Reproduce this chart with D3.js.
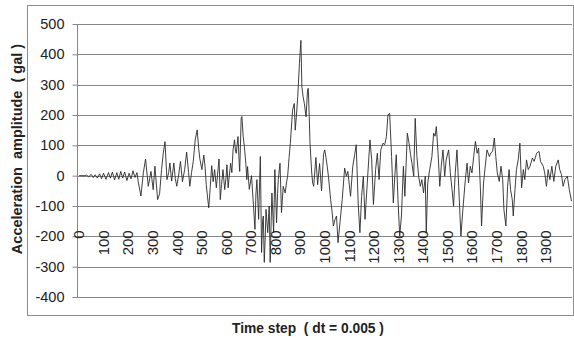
<!DOCTYPE html>
<html>
<head>
<meta charset="utf-8">
<script src="https://cdn.jsdelivr.net/npm/d3@7"></script>
<style>
    body { margin: 0; background: #fff; }
    svg { display: block; font-family: "Liberation Sans", Arial, sans-serif; }
</style>
</head>
<body>
<div id="chart"></div>
<script>

// time step of each reading (dt = 0.005)
let timeSteps = [0, 24, 30, 40, 50, 58, 66, 75, 84, 92, 100, 110, 120, 128, 136, 145, 154, 162, 170, 178, 186, 195, 204, 212, 220, 228, 236,
    241, 252, 262, 271, 282, 293, 302, 309, 320, 328, 336, 343, 350, 358, 365, 370, 377, 386, 392, 398, 406, 413, 421, 430, 438, 446,
    451, 458, 465, 473, 481, 487, 492, 500, 508, 513, 518, 523, 528, 534, 540, 546, 552, 559, 564, 570, 575, 580, 586, 593, 598, 602,
    607, 610, 617, 622, 627, 633, 637, 640, 647, 652, 654, 660, 663, 668, 673, 679, 683, 686, 693, 702, 710, 716, 720, 724, 731, 735,
    738, 743, 747, 750, 754, 758, 761, 768, 774, 778, 782, 785, 792, 797, 804, 808, 811, 818, 824, 831, 839, 845, 849, 855, 860, 869,
    876, 880, 885, 890, 897, 903, 907, 912, 917, 924, 930, 933, 937, 940, 947, 951, 955, 964, 971, 979, 987, 995, 1000, 1005, 1010,
    1015, 1024, 1030, 1035, 1042, 1048, 1054, 1062, 1071, 1081, 1088, 1094, 1100, 1105, 1114, 1122, 1128, 1136, 1143, 1150, 1157,
    1164, 1173, 1184, 1191, 1198, 1207, 1214, 1221, 1228, 1237, 1244, 1251, 1257, 1264, 1272, 1279, 1285, 1291, 1298, 1305, 1312,
    1320, 1326, 1336, 1343, 1349, 1355, 1362, 1368, 1375, 1382, 1389, 1395, 1402, 1409, 1413, 1419, 1427, 1436, 1443, 1449, 1454,
    1461, 1468, 1474, 1481, 1488, 1494, 1504, 1511, 1518, 1524, 1531, 1538, 1545, 1554, 1562, 1572, 1579, 1585, 1592, 1599, 1606,
    1613, 1620, 1626, 1633, 1638, 1646, 1653, 1660, 1670, 1676, 1683, 1690, 1696, 1702, 1710, 1717, 1724, 1729, 1737, 1744, 1750,
    1756, 1763, 1767, 1774, 1780, 1787, 1794, 1801, 1808, 1814, 1821, 1828, 1835, 1845, 1852, 1862, 1872, 1878, 1889, 1895, 1902,
    1909, 1916, 1924, 1932, 1940, 1950, 1956, 1963, 1970, 1977, 1987, 1995, 2004];

// acceleration amplitude (gal)
let accel = [0, 0, 2, -3, 4, -6, 3, -8, 6, -10, 8, -12, 10, -8, 12, -14, 10, -12, 14, -8, 12, -16, 8, -10, 16, -6, 10,
    -19, -67, 10, 55, -35, 14, -46, 31, -79, -60, 20, 74, 112, -13, 10, 42, -18, 42, -10, -35, 5, 47, -20, 20, 78, 10,
    -35, 10, 47, 118, 151, 90, 55, 20, 68, 30, -30, -70, -106, -40, 33, -20, 20, -40, 5, 55, -79, -30, 20, -46, -10, 36,
    -40, -13, 41, 10, 85, 118, 80, 74, 129, 40, 14, 190, 195, 130, 95, 40, -13, 30, -45, 0, -100, -177, -60, -13, -144, -20,
    63, -253, -150, -133, -286, -200, -111, -188, -100, -286, -150, -57, -188, 20, -155, -60, -13, 41, -122, -35, -57, -20, -2, 60, 107, 216,
    238, 150, 200, 260, 369, 446, 293, 260, 238, 194, 282, 288, 194, 107, 9, -24, -35, 60, -30, 40, -50, 70, 85, 60, 31,
    -2, -79, -120, -166, -144, -133, -221, -155, -79, 25, -2, 14, -30, -68, 31, 70, 102, -90, -188, -68, -2,
    -144, -24, 118, 52, -95, 20, 74, -13, 85, 107, 102, 129, 200, 206, 63, -90, -2, 69, -79, -199, -133,
    31, -68, 140, 107, 70, 40, -2, 189, 63, -2, -35, -13, -57, -2, -190, -24, 20, 63, 140, 130, 162,
    74, -35, 31, 85, -2, 52, 85, 9, -46, -101, 9, 85, -35, -199, -112, -13, 41, -24, 31, 9, 63,
    113, 74, 91, -35, -166, -24, 31, 85, 63, 75, 80, 124, 63, 9, -19, 31, -13, -112, -166, -35, 20,
    -46, -79, -133, -46, 20, 52, 107, -40, 20, -13, 52, 20, 31, 58, 47, 74, 80, 47, 31, 9, -35,
    20, -13, 31, -19, 31, 52, 20, 4, -35, -13, -2, -46, -84];

let yTicks = [-400, -300, -200, -100, 0, 100, 200, 300, 400, 500];
let xTickLabels = [0, 100, 200, 300, 400, 500, 600, 700, 800, 900, 1000, 1100, 1200, 1300, 1400, 1500, 1600, 1700, 1800, 1900];

let width = 574, height = 341;
let plot = {left: 77, right: 572, top: 24, bottom: 297};
let gridColor = "#868686";
let textColor = "#222";

let svg = d3.select("#chart").append("svg")
    .attr("width", width)
    .attr("height", height);

// chart area border
svg.append("rect")
    .attr("x", 27.5)
    .attr("y", 5.5)
    .attr("width", 546)
    .attr("height", 310)
    .attr("fill", "none")
    .attr("stroke", "#8c8c8c");

let x = d3.scaleLinear()
    .domain([-8, 2006])
    .range([plot.left, plot.right]);

let y = d3.scaleLinear()
    .domain([-400, 500])
    .range([plot.bottom, plot.top]);

// horizontal gridlines
svg.append("g")
    .selectAll("line")
    .data(yTicks)
    .enter().append("line")
    .attr("x1", plot.left)
    .attr("x2", plot.right)
    .attr("y1", d => Math.round(y(d)) + 0.5)
    .attr("y2", d => Math.round(y(d)) + 0.5)
    .attr("stroke", gridColor)
    .attr("stroke-width", 1);

// y axis (plain hyphen for negatives, like the original)
let yAxis = d3.axisLeft(y)
    .tickValues(yTicks)
    .tickFormat(d => String(d))
    .tickSize(5)
    .tickPadding(8);

let yAxisG = svg.append("g")
    .attr("transform", `translate(${plot.left + 0.5},0)`)
    .call(yAxis);

yAxisG.select(".domain").attr("stroke", gridColor).attr("d", `M0,${plot.top}V${plot.bottom}`);
yAxisG.selectAll(".tick line").attr("stroke", gridColor);
yAxisG.selectAll(".tick text")
    .attr("fill", textColor)
    .style("font-size", "14.5px")
    .style("font-family", "Liberation Sans, Arial, sans-serif");

// the series
let line = d3.line()
    .x((d, i) => x(timeSteps[i]))
    .y(d => y(d));

svg.append("path")
    .datum(accel)
    .attr("d", line)
    .attr("fill", "none")
    .attr("stroke", "#2a2a2a")
    .attr("stroke-width", 0.9)
    .attr("stroke-linejoin", "round");

// category labels sit on the -200 line, rotated
svg.append("g")
    .selectAll("text")
    .data(xTickLabels)
    .enter().append("text")
    .attr("transform", d => `translate(${x(d)},${y(-200) - 6}) rotate(-90)`)
    .attr("dy", "0.35em")
    .attr("text-anchor", "end")
    .attr("fill", textColor)
    .style("font-size", "15px")
    .text(d => d);

// axis titles
svg.append("text")
    .attr("transform", `translate(17,149) rotate(-90)`)
    .attr("dy", "0.35em")
    .attr("text-anchor", "middle")
    .attr("fill", textColor)
    .style("font-size", "14.5px")
    .style("font-weight", "bold")
    .style("white-space", "pre")
    .text("Acceleration  amplitude  ( gal )");

svg.append("text")
    .attr("x", 308)
    .attr("y", 333)
    .attr("text-anchor", "middle")
    .attr("fill", textColor)
    .style("font-size", "13.8px")
    .style("font-weight", "bold")
    .style("white-space", "pre")
    .text("Time step  ( dt = 0.005 )");

</script>
</body>
</html>
